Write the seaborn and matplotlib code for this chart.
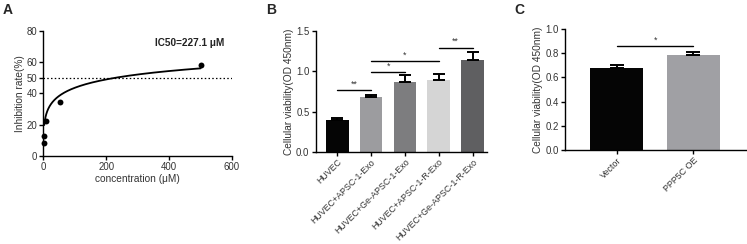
import numpy as np
import pandas as pd
import matplotlib
matplotlib.use("Agg")
import matplotlib.pyplot as plt
import seaborn as sns

# ---------------- data ----------------
# Panel A
conc = [0.5, 1.0, 7.0, 52.0, 500.0]
inhibition = [8.1, 13.0, 22.5, 34.8, 58.2]
ic50 = 227.1
hill_slope = 0.31
a_xticks = [0, 200, 400, 600]
a_yticks = [0, 20, 40, 50, 60, 80]

# Panel B
b_groups = ["HUVEC", "HUVEC+APSC-1-Exo", "HUVEC+Ge-APSC-1-Exo",
            "HUVEC+APSC-1-R-Exo", "HUVEC+Ge-APSC-1-R-Exo"]
b_values = [0.39, 0.685, 0.87, 0.89, 1.135]
b_err = [0.03, 0.025, 0.08, 0.075, 0.105]
b_colors = ["#050505", "#9c9c9f", "#7d7d7f", "#d5d5d5", "#5f5f61"]
b_sig = [(0, 1, 0.767, "**"), (1, 2, 0.99, "*"), (1, 3, 1.127, "*"), (3, 4, 1.293, "**")]
b_yticks = [0.0, 0.5, 1.0, 1.5]

# Panel C
c_groups = ["Vector", "PPP5C OE"]
c_values = [0.673, 0.78]
c_err = [0.027, 0.025]
c_colors = ["#050505", "#a0a0a4"]
c_sig = [(0, 1, 0.857, "*")]
c_yticks = [0.0, 0.2, 0.4, 0.6, 0.8, 1.0]

# ---------------- style ----------------
sns.set_style("ticks")
plt.rcParams["font.family"] = ["Liberation Sans", "DejaVu Sans"]
plt.rcParams["axes.linewidth"] = 1.0
plt.rcParams["xtick.major.width"] = 1.0
plt.rcParams["ytick.major.width"] = 1.0
plt.rcParams["xtick.major.size"] = 3
plt.rcParams["ytick.major.size"] = 3
plt.rcParams["xtick.major.pad"] = 1.5
plt.rcParams["ytick.major.pad"] = 1.5

TXT = "#333333"
TICK_FS = 6.9
LAB_FS = 7.3

fig = plt.figure(figsize=(7.47, 2.44), dpi=100)
axA = fig.add_axes([0.0582, 0.3607, 0.2524, 0.5123])
axB = fig.add_axes([0.4226, 0.378, 0.2294, 0.495])
axC = fig.add_axes([0.7564, 0.385, 0.2430, 0.497])

def style(ax):
    sns.despine(ax=ax)
    ax.tick_params(labelsize=TICK_FS, colors="black", labelcolor=TXT, length=3)
    for s in ["left", "bottom"]:
        ax.spines[s].set_color("black")

# ---------------- Panel A ----------------
xf = np.geomspace(2.5, 500, 300)
yf = 100.0 / (1.0 + (ic50 / xf) ** hill_slope)
sns.lineplot(x=xf, y=yf, ax=axA, color="black", lw=1.3)
sns.scatterplot(x=conc, y=inhibition, ax=axA, color="black", s=18, edgecolor="black",
                linewidth=0, zorder=5, clip_on=False)
axA.axhline(50, color="black", lw=0.9, ls=(0, (1.2, 1.8)))
axA.set_xlim(0, 600)
axA.set_ylim(0, 80)
axA.set_xticks(a_xticks)
axA.set_yticks(a_yticks)
axA.set_xlabel("concentration (\u03bcM)", fontsize=LAB_FS, color=TXT, labelpad=1)
axA.set_ylabel("Inhibition rate(%)", fontsize=LAB_FS, color=TXT, labelpad=1)
axA.text(0.777, 0.905, "IC50=227.1 \u03bcM", transform=axA.transAxes, fontsize=7.2,
         fontweight="bold", ha="center", va="center", color="#222222")
style(axA)

# ---------------- bar helper ----------------
def bars(ax, groups, values, errs, colors, sig, yticks, ylim, width, capsize, xlim):
    df = pd.DataFrame({"g": groups, "v": values})
    sns.barplot(data=df, x="g", y="v", hue="g", palette=colors, legend=False,
                errorbar=None, width=width, saturation=1, ax=ax, linewidth=0)
    xs = np.arange(len(groups))
    ax.errorbar(xs, values, yerr=[np.zeros(len(errs)), errs], fmt="none",
                ecolor="black", elinewidth=1.4, capsize=capsize, capthick=1.4)
    for i, j, y, lab in sig:
        ax.plot([i, j], [y, y], color="black", lw=1.0)
        ax.text((i + j) / 2, y + ylim[1] * 0.012, lab, ha="center", va="bottom",
                fontsize=6.3, color=TXT)
    ax.set_ylim(*ylim)
    ax.set_yticks(yticks)
    ax.set_xlim(*xlim)
    ax.set_xlabel("")
    ax.set_ylabel("Cellular viability(OD 450nm)", fontsize=LAB_FS, color=TXT, labelpad=1.5)
    style(ax)
    ax.set_xticks(xs)
    ax.set_xticklabels(groups, rotation=45, ha="right", rotation_mode="anchor",
                       fontsize=6.4, color=TXT)
    ax.tick_params(axis="x", pad=1.0)

bars(axB, b_groups, b_values, b_err, b_colors, b_sig, b_yticks, (0, 1.5), 0.67, 4.2,
     (-0.64, 4.43))
axB.yaxis.set_major_formatter(matplotlib.ticker.FormatStrFormatter("%.1f"))

bars(axC, c_groups, c_values, c_err, c_colors, c_sig, c_yticks, (0, 1.0), 0.69, 5.0,
     (-0.67, 1.69))
axC.yaxis.set_major_formatter(matplotlib.ticker.FormatStrFormatter("%.1f"))

# panel letters
for x, lab in [(3, "A"), (266, "B"), (514, "C")]:
    fig.text(x / 747, 1 - 3 / 244, lab, fontsize=10, fontweight="bold", ha="left", va="top")

fig.savefig("out.png", dpi=100)
